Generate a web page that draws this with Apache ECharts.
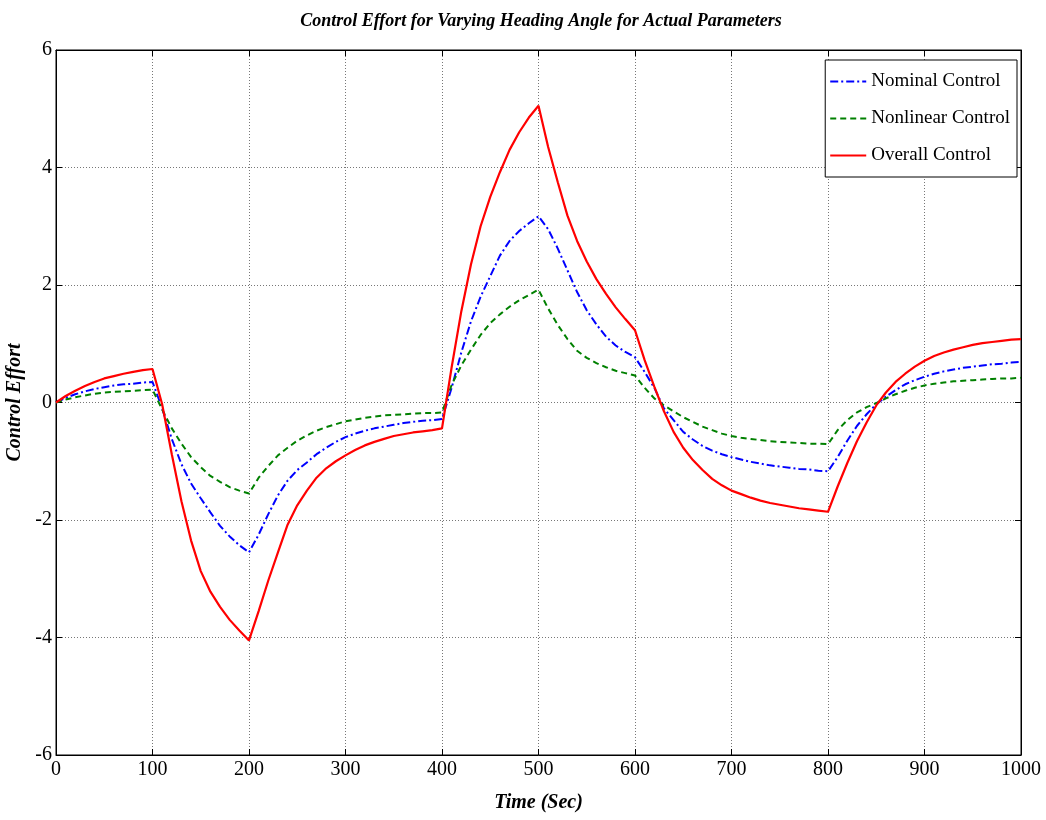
<!DOCTYPE html>
<html>
<head>
<meta charset="utf-8">
<script src="https://cdn.jsdelivr.net/npm/echarts@6/dist/echarts.min.js"></script>
<style>html,body{margin:0;padding:0;background:#fff}#c{width:1046px;height:820px}</style>
</head>
<body>
<div id="c"></div>
<script>
const times = [];
for (let t = 0; t <= 1000; t += 10) times.push(t);

const overall = [
  0, 0.11, 0.2, 0.28, 0.35, 0.41, 0.45, 0.49, 0.52, 0.55, 0.57,
  -0.03, -0.88, -1.68, -2.35, -2.87, -3.22, -3.48, -3.7, -3.88, -4.05,
  -3.55, -3.03, -2.55, -2.08, -1.75, -1.5, -1.28, -1.12, -1.0, -0.9,
  -0.81, -0.73, -0.67, -0.62, -0.57, -0.54, -0.51, -0.49, -0.47, -0.44,
  0.6, 1.55, 2.35, 3.0, 3.5, 3.92, 4.3, 4.6, 4.85, 5.05,
  4.35, 3.75, 3.18, 2.75, 2.4, 2.1, 1.85, 1.62, 1.42, 1.23,
  0.72, 0.27, -0.15, -0.5, -0.77, -0.98, -1.15, -1.3, -1.41, -1.5,
  -1.56, -1.62, -1.67, -1.71, -1.74, -1.77, -1.8, -1.82, -1.84, -1.86,
  -1.43, -1.03, -0.66, -0.34, -0.05, 0.17, 0.35, 0.49, 0.61, 0.71,
  0.79, 0.85, 0.9, 0.94, 0.98, 1.01, 1.03, 1.05, 1.07, 1.08
];
const nominal = [
  0, 0.08, 0.14, 0.19, 0.23, 0.26, 0.29, 0.31, 0.32, 0.34, 0.35,
  -0.1, -0.62, -1.05, -1.38, -1.63, -1.87, -2.1, -2.28, -2.43, -2.55,
  -2.25, -1.9, -1.58, -1.33, -1.15, -1.02, -0.88, -0.77, -0.67, -0.59,
  -0.53, -0.48, -0.44, -0.41, -0.38, -0.35, -0.33, -0.31, -0.3, -0.28,
  0.25, 0.85, 1.38, 1.8, 2.15, 2.5, 2.75, 2.92, 3.05, 3.17,
  2.95, 2.62, 2.25, 1.88, 1.57, 1.33, 1.12, 0.97, 0.86, 0.77,
  0.52, 0.25, -0.1, -0.3, -0.5, -0.63, -0.74, -0.82, -0.88, -0.93,
  -0.97, -1.01, -1.04, -1.07, -1.09, -1.11, -1.13, -1.14, -1.16, -1.17,
  -0.93, -0.65, -0.4, -0.2, -0.03, 0.1, 0.21, 0.31, 0.38, 0.44,
  0.49, 0.53, 0.56, 0.59, 0.61, 0.63, 0.65, 0.66, 0.68, 0.69
];
const nonlinear = [
  0, 0.05, 0.09, 0.12, 0.15, 0.17, 0.18, 0.19, 0.2, 0.21, 0.22,
  -0.12, -0.44, -0.7, -0.93, -1.1, -1.25, -1.35, -1.44, -1.5, -1.55,
  -1.28, -1.08, -0.9, -0.77, -0.65, -0.56, -0.48, -0.42, -0.37, -0.32,
  -0.29, -0.26, -0.24, -0.22, -0.21, -0.2, -0.19, -0.18, -0.18, -0.17,
  0.3, 0.63, 0.9, 1.15, 1.35, 1.5, 1.63, 1.74, 1.83, 1.92,
  1.6, 1.32, 1.08, 0.88, 0.76, 0.67, 0.6, 0.54, 0.5, 0.46,
  0.25, 0.07, -0.05, -0.15, -0.25, -0.33, -0.41, -0.47, -0.53, -0.57,
  -0.6, -0.62, -0.64, -0.66, -0.67, -0.68, -0.69, -0.7, -0.7, -0.71,
  -0.47, -0.3, -0.17, -0.08, -0.01, 0.07, 0.14, 0.2, 0.25, 0.29,
  0.32, 0.34, 0.36, 0.37, 0.38, 0.39, 0.4, 0.41, 0.41, 0.42
];
const seriesNames = ['Nominal Control', 'Nonlinear Control', 'Overall Control'];
const xTicks = [0, 100, 200, 300, 400, 500, 600, 700, 800, 900, 1000];
const yTicks = [-6, -4, -2, 0, 2, 4, 6];

const pair = arr => times.map((t, i) => [t, arr[i]]);
const serif = '"Liberation Serif", "DejaVu Serif", serif';

const chart = echarts.init(document.getElementById('c'), null, {renderer: 'canvas'});
const gridLine = {show: true, lineStyle: {color: '#777', type: [1, 2], width: 1}};
const tick = {show: true, inside: true, length: 6, lineStyle: {color: '#000'}};
chart.setOption({
  animation: false,
  backgroundColor: '#fff',
  title: {
    text: 'Control Effort for Varying Heading Angle for Actual Parameters',
    left: 536, top: 7, textAlign: 'center',
    textStyle: {fontFamily: serif, fontStyle: 'italic', fontWeight: 'bold', fontSize: 18, color: '#000'}
  },
  legend: {
    orient: 'vertical', right: 29, top: 60,
    backgroundColor: '#fff', borderColor: '#000', borderWidth: 1,
    padding: [12, 7, 12, 4], itemGap: 18, itemWidth: 36, itemHeight: 14, itemTextGap: 4,
    itemStyle: {opacity: 0},
    textStyle: {fontFamily: serif, fontSize: 19, color: '#000'},
    data: seriesNames
  },
  grid: {left: 56, right: 25, top: 50, bottom: 65, show: true, borderColor: '#000', borderWidth: 1,
    outerBoundsMode: 'none', containLabel: false},
  xAxis: [{
    type: 'value', min: 0, max: 1000, interval: 100,
    name: 'Time (Sec)', nameLocation: 'middle', nameGap: 38,
    nameTextStyle: {fontFamily: serif, fontStyle: 'italic', fontWeight: 'bold', fontSize: 20, color: '#000'},
    axisLine: {show: true, onZero: false, lineStyle: {color: '#000', width: 1}},
    axisTick: tick,
    axisLabel: {fontFamily: serif, fontSize: 20, color: '#000', margin: 5,
      formatter: v => xTicks.includes(v) ? String(v) : ''},
    splitLine: gridLine
  }, {
    type: 'value', min: 0, max: 1000, interval: 100, position: 'top',
    axisLine: {show: true, onZero: false, lineStyle: {color: '#000'}},
    axisTick: tick, axisLabel: {show: false}, splitLine: {show: false}
  }],
  yAxis: [{
    type: 'value', min: -6, max: 6, interval: 2,
    name: 'Control Effort', nameLocation: 'middle', nameGap: 27, nameRotate: 90,
    nameTextStyle: {fontFamily: serif, fontStyle: 'italic', fontWeight: 'bold', fontSize: 20, color: '#000'},
    axisLine: {show: true, onZero: false, lineStyle: {color: '#000', width: 1}},
    axisTick: tick,
    axisLabel: {fontFamily: serif, fontSize: 20, color: '#000', margin: 4,
      formatter: v => yTicks.includes(v) ? String(v) : ''},
    splitLine: gridLine
  }, {
    type: 'value', min: -6, max: 6, interval: 2, position: 'right',
    axisLine: {show: true, onZero: false, lineStyle: {color: '#000'}},
    axisTick: tick, axisLabel: {show: false}, splitLine: {show: false}
  }],
  series: [
    {name: seriesNames[0], type: 'line', data: pair(nominal), showSymbol: false, symbol: 'none',
      color: '#0000ff', lineStyle: {color: '#0000ff', width: 2, type: [8, 3, 2, 3]}},
    {name: seriesNames[1], type: 'line', data: pair(nonlinear), showSymbol: false, symbol: 'none',
      color: '#008000', lineStyle: {color: '#008000', width: 2, type: [6, 4]}},
    {name: seriesNames[2], type: 'line', data: pair(overall), showSymbol: false, symbol: 'none',
      color: '#ff0000', lineStyle: {color: '#ff0000', width: 2.2}}
  ]
});
</script>
</body>
</html>
